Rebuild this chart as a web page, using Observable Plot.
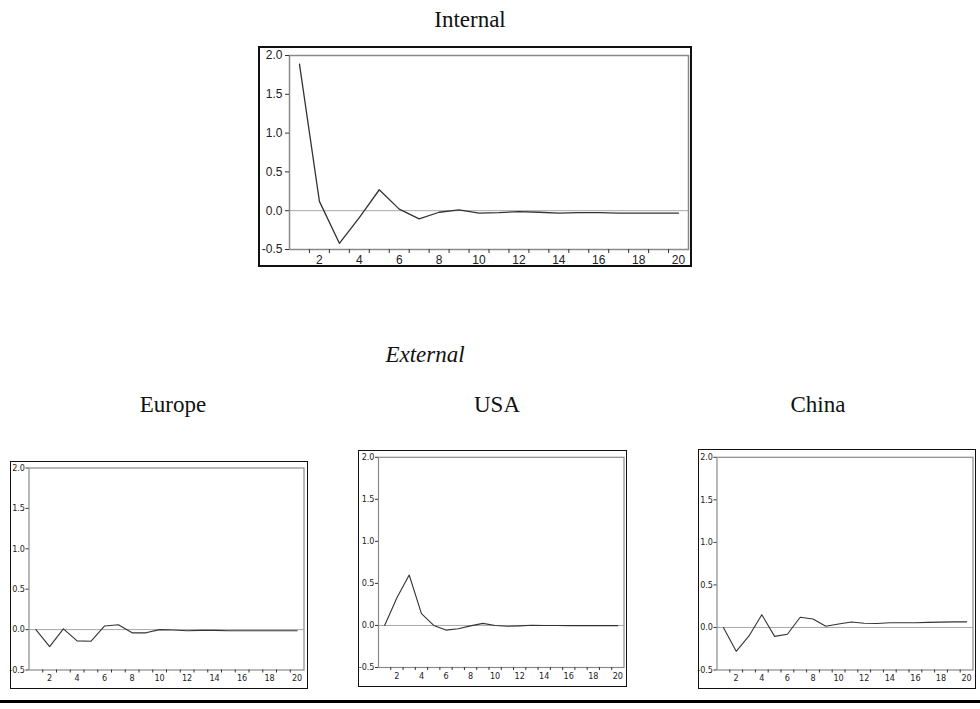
<!DOCTYPE html>
<html>
<head>
<meta charset="utf-8">
<script src="https://cdn.jsdelivr.net/npm/d3@7"></script>
<script src="https://cdn.jsdelivr.net/npm/@observablehq/plot@0.6"></script>
<style>
  html, body { margin: 0; padding: 0; background: #fff; }
  #page { position: relative; width: 980px; height: 709px; overflow: hidden; }
  .ttl { position: absolute; font-family: "Liberation Serif", "Times New Roman", serif; font-size: 23px; color: #111; white-space: nowrap; transform: translateX(-50%); line-height: 1; }
  .box { position: absolute; box-sizing: border-box; border: 1.5px solid #111; background: #fff; }
  .box svg { position: absolute; left: 0; top: 0; overflow: visible; }
  #rule { position: absolute; left: 0; top: 700px; width: 980px; height: 3px; background: #000; }
</style>
</head>
<body>
<div id="page"></div>
<script>
// ---- data ----
const periods = [1,2,3,4,5,6,7,8,9,10,11,12,13,14,15,16,17,18,19,20];
const internalValues = [1.89,0.12,-0.42,-0.09,0.27,0.02,-0.105,-0.02,0.01,-0.03,-0.025,-0.013,-0.02,-0.03,-0.025,-0.025,-0.03,-0.03,-0.03,-0.03];
const europeValues = [0.0,-0.21,0.01,-0.14,-0.145,0.045,0.06,-0.04,-0.04,0.0,-0.005,-0.015,-0.01,-0.01,-0.015,-0.015,-0.015,-0.015,-0.015,-0.015];
const usaValues = [0.0,0.33,0.6,0.14,0.0,-0.055,-0.04,-0.005,0.025,0.0,-0.01,-0.005,0.003,0.0,0.0,-0.002,-0.002,-0.002,-0.002,-0.002];
const chinaValues = [0.0,-0.28,-0.10,0.15,-0.105,-0.08,0.12,0.10,0.015,0.04,0.065,0.05,0.047,0.055,0.055,0.055,0.06,0.063,0.066,0.066];
const yTicks = [-0.5,0.0,0.5,1.0,1.5,2.0];
const xLabelTicks = [2,4,6,8,10,12,14,16,18,20];
const xMinorTicks = [1.5,2.5,3.5,4.5,5.5,6.5,7.5,8.5,9.5,10.5,11.5,12.5,13.5,14.5,15.5,16.5,17.5,18.5,19.5];
const titleMain = "Internal";
const titleExternal = "External";
const panelNames = ["Europe","USA","China"];

const page = document.getElementById("page");

function addText(txt, cx, top, italic) {
  const d = document.createElement("div");
  d.className = "ttl";
  d.textContent = txt;
  d.style.left = cx + "px";
  d.style.top = top + "px";
  if (italic) d.style.fontStyle = "italic";
  page.appendChild(d);
}

function addChart(values, box, plotArea, opt) {
  const bw = opt.border;
  const div = document.createElement("div");
  div.className = "box";
  div.style.left = box[0] + "px";
  div.style.top = box[1] + "px";
  div.style.width = (box[2] - box[0]) + "px";
  div.style.height = (box[3] - box[1]) + "px";
  div.style.borderWidth = bw + "px";
  page.appendChild(div);
  const ox = box[0] + bw, oy = box[1] + bw;
  const W = box[2] - box[0] - 2 * bw, H = box[3] - box[1] - 2 * bw;
  const data = periods.map((p, i) => ({p, v: values[i]}));
  const fmt = d => d.toFixed(1);
  const svg = Plot.plot({
    width: W, height: H,
    marginLeft: plotArea[0] - ox,
    marginRight: ox + W - plotArea[1],
    marginTop: plotArea[2] - oy,
    marginBottom: oy + H - plotArea[3],
    x: {domain: [0.5, 20.5]},
    y: {domain: [-0.5, 2.0]},
    style: {fontFamily: opt.font, fontSize: opt.fontSize + "px", color: "#222", background: "transparent", overflow: "visible"},
    marks: [
      Plot.ruleY([0], {stroke: "#a8a8a8", strokeWidth: 1}),
      Plot.line(data, {x: "p", y: "v", stroke: "#333", strokeWidth: opt.lineWidth}),
      Plot.frame({stroke: "#8a8a8a", strokeWidth: opt.frameWidth}),
      Plot.axisY(yTicks, {tickFormat: fmt, tickSize: opt.tick, tickPadding: opt.yPad, stroke: "#333", fill: "#222", label: null}),
      Plot.axisX(xMinorTicks, {tickFormat: () => "", tickSize: opt.tick, stroke: "#333", label: null}),
      Plot.axisX(xLabelTicks, {tickSize: 0, tickPadding: opt.xPad, fill: "#222", label: null})
    ]
  });
  div.appendChild(svg);
}

addText(titleMain, 470, 8, false);
addText(titleExternal, 425, 343, true);
addText(panelNames[0], 173, 393, false);
addText(panelNames[1], 497, 393, false);
addText(panelNames[2], 818, 393, false);

addChart(internalValues, [258, 46, 692, 267], [289, 688, 55, 249],
  {border: 2, font: "'Liberation Sans', Arial, sans-serif", fontSize: 12, lineWidth: 1.3, frameWidth: 1.5, tick: 4, yPad: 3, xPad: 6});
const smallOpt = {border: 1.5, font: "'Liberation Sans Narrow', 'Arial Narrow', 'DejaVu Sans Condensed', sans-serif", fontSize: 9, lineWidth: 1.1, frameWidth: 1.2, tick: 3, yPad: 1, xPad: 5};
addChart(europeValues, [10, 461, 308, 689], [29, 304, 468, 670], smallOpt);
addChart(usaValues, [358, 450, 627, 687], [378.5, 624, 457.3, 667.5], smallOpt);
addChart(chinaValues, [698, 449, 976, 689], [717, 973, 457.3, 670], smallOpt);

const rule = document.createElement("div");
rule.id = "rule";
page.appendChild(rule);
</script>
</body>
</html>
